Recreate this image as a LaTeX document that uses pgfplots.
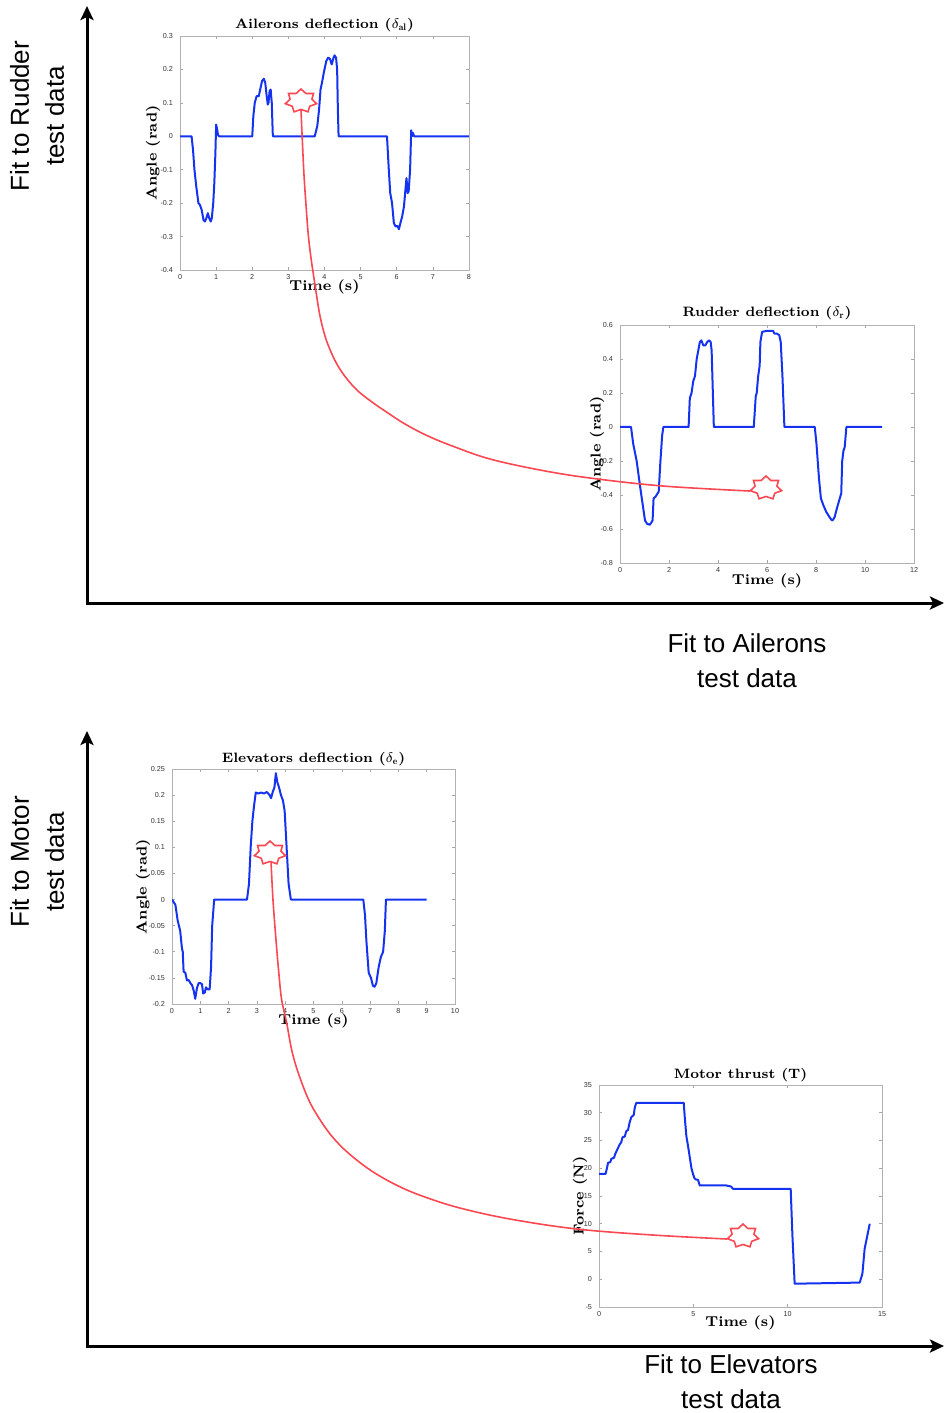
\documentclass[border=0pt]{standalone}
\usepackage{fontspec}
\setsansfont{Liberation Sans}
\usepackage{pgfplots}
\pgfplotsset{compat=1.18}
\usetikzlibrary{arrows.meta}
\definecolor{curvered}{RGB}{250,72,82}
\definecolor{plotblue}{RGB}{20,50,240}

\pgfdeclareplotmark{heptstar}{%
\pgfpathmoveto{\pgfqpoint{0pt}{6pt}}%
\pgfpathlineto{\pgfqpoint{-2.430pt}{3.784pt}}%
\pgfpathlineto{\pgfqpoint{-6.254pt}{3.741pt}}%
\pgfpathlineto{\pgfqpoint{-5.459pt}{0.935pt}}%
\pgfpathlineto{\pgfqpoint{-7.799pt}{-1.335pt}}%
\pgfpathlineto{\pgfqpoint{-4.378pt}{-2.619pt}}%
\pgfpathlineto{\pgfqpoint{-3.471pt}{-5.406pt}}%
\pgfpathlineto{\pgfqpoint{0pt}{-4.2pt}}%
\pgfpathlineto{\pgfqpoint{3.471pt}{-5.406pt}}%
\pgfpathlineto{\pgfqpoint{4.378pt}{-2.619pt}}%
\pgfpathlineto{\pgfqpoint{7.799pt}{-1.335pt}}%
\pgfpathlineto{\pgfqpoint{5.459pt}{0.935pt}}%
\pgfpathlineto{\pgfqpoint{6.254pt}{3.741pt}}%
\pgfpathlineto{\pgfqpoint{2.430pt}{3.784pt}}%
\pgfpathclose\pgfusepathqstroke}

\pgfplotsset{
  small/.style={
    scale only axis,
    axis line style={gray!60, line width=0.4pt},
    tick style={gray!70, line width=0.3pt},
    major tick length=1.6pt,
    tick align=inside,
    tick label style={font=\sffamily\fontsize{3.6}{4}\selectfont, text=black!80},
    xticklabel style={yshift=1.5pt},
    /pgf/number format/assume math mode=true,
    /pgf/number format/fixed,
    /pgf/number format/precision=2,
    label style={font=\bfseries\fontsize{7.2}{8}\selectfont},
    title style={font=\bfseries\fontsize{6.8}{8}\selectfont, anchor=center, yshift=-6pt},
    xlabel style={anchor=center},
    ylabel style={anchor=center},
    no markers,
  },
  blueline/.style={plotblue, line width=1pt, line join=round},
}

\begin{document}
\begin{tikzpicture}
\path[use as bounding box] (0,0) rectangle (473pt,-706.5pt);

% ---------------- Ailerons ----------------
\begin{axis}[small, at={(90pt,-18pt)}, anchor=north west,
  width=144.5pt, height=117pt,
  xmin=0, xmax=8, ymin=-0.4, ymax=0.3,
  xtick={0,1,2,3,4,5,6,7,8},
  ytick={-0.4,-0.3,-0.2,-0.1,0,0.1,0.2,0.3},
  title={Ailerons deflection ($\delta_{\mathbf{al}}$)},
  title style={at={(axis description cs:0.5,1.047)}},
  xlabel={Time (s)}, xlabel style={at={(axis description cs:0.5,-0.073)}},
  ylabel={Angle (rad)}, ylabel style={at={(axis description cs:-0.093,0.5)}},
]
\addplot[blueline] coordinates {(0,0)(0.32,0)(0.36,-0.04)(0.4,-0.1)(0.45,-0.15)(0.51,-0.2)(0.55,-0.205)(0.6,-0.22)(0.65,-0.25)(0.69,-0.255)(0.73,-0.245)(0.77,-0.23)(0.81,-0.245)(0.85,-0.255)(0.88,-0.245)(0.92,-0.2)(0.95,-0.14)(0.98,-0.05)(1.0,0.035)(1.03,0.02)(1.05,0.005)(1.08,0)(2.0,0)(2.03,0.06)(2.07,0.1)(2.12,0.12)(2.18,0.12)(2.22,0.14)(2.27,0.165)(2.32,0.172)(2.36,0.16)(2.4,0.12)(2.43,0.095)(2.45,0.1)(2.48,0.135)(2.51,0.14)(2.54,0.1)(2.57,0.0)(3.73,0)(3.8,0.03)(3.85,0.08)(3.89,0.14)(3.93,0.16)(3.98,0.19)(4.05,0.225)(4.1,0.235)(4.15,0.232)(4.2,0.215)(4.25,0.235)(4.28,0.242)(4.32,0.235)(4.35,0.2)(4.37,0.08)(4.39,0.0)(5.73,0)(5.78,-0.1)(5.82,-0.17)(5.87,-0.2)(5.92,-0.26)(5.97,-0.27)(6.02,-0.268)(6.06,-0.278)(6.1,-0.26)(6.15,-0.24)(6.2,-0.21)(6.24,-0.16)(6.27,-0.125)(6.3,-0.17)(6.33,-0.165)(6.37,-0.1)(6.4,0.018)(6.42,0.0)(6.45,0.01)(6.48,0)(8,0)};
\end{axis}

% ---------------- Rudder ----------------
\begin{axis}[small, at={(310pt,-162.5pt)}, anchor=north west,
  width=147pt, height=119pt,
  xmin=0, xmax=12, ymin=-0.8, ymax=0.6,
  xtick={0,2,4,6,8,10,12},
  ytick={-0.8,-0.6,-0.4,-0.2,0,0.2,0.4,0.6},
  title={Rudder deflection ($\delta_{\mathbf{r}}$)},
  title style={at={(axis description cs:0.5,1.05)}},
  xlabel={Time (s)}, xlabel style={at={(axis description cs:0.5,-0.076)}},
  ylabel={Angle (rad)}, ylabel style={at={(axis description cs:-0.078,0.5)}},
]
\addplot[blueline] coordinates {(0,0)(0.45,0)(0.54,-0.1)(0.68,-0.2)(0.82,-0.35)(0.92,-0.45)(1.02,-0.55)(1.11,-0.57)(1.22,-0.575)(1.33,-0.55)(1.37,-0.42)(1.45,-0.41)(1.58,-0.38)(1.65,-0.2)(1.72,-0.05)(1.77,0)(2.8,0)(2.85,0.17)(2.92,0.2)(2.99,0.27)(3.06,0.3)(3.13,0.4)(3.26,0.5)(3.32,0.51)(3.4,0.48)(3.48,0.48)(3.56,0.5)(3.64,0.51)(3.7,0.5)(3.74,0.45)(3.83,0)(5.46,0)(5.54,0.18)(5.58,0.2)(5.64,0.3)(5.7,0.36)(5.73,0.5)(5.8,0.56)(5.98,0.565)(6.25,0.565)(6.3,0.55)(6.4,0.55)(6.5,0.54)(6.56,0.5)(6.63,0.3)(6.71,0)(7.95,0)(8.02,-0.1)(8.12,-0.3)(8.2,-0.42)(8.3,-0.46)(8.42,-0.5)(8.55,-0.53)(8.65,-0.55)(8.7,-0.545)(8.76,-0.53)(8.85,-0.48)(8.95,-0.43)(9.03,-0.39)(9.07,-0.2)(9.12,-0.14)(9.17,-0.12)(9.24,0)(10.7,0)};
\end{axis}

% ---------------- Elevators ----------------
\begin{axis}[small, at={(86pt,-384.5pt)}, anchor=north west,
  width=141.5pt, height=117.5pt,
  xmin=0, xmax=10, ymin=-0.2, ymax=0.25,
  xtick={0,1,2,3,4,5,6,7,8,9,10},
  ytick={-0.2,-0.15,-0.1,-0.05,0,0.05,0.1,0.15,0.2,0.25},
  title={Elevators deflection ($\delta_{\mathbf{e}}$)},
  title style={at={(axis description cs:0.5,1.043)}},
  xlabel={Time (s)}, xlabel style={at={(axis description cs:0.5,-0.072)}},
  ylabel={Angle (rad)}, ylabel style={at={(axis description cs:-0.102,0.5)}},
]
\addplot[blueline] coordinates {(0,0)(0.12,-0.01)(0.2,-0.04)(0.29,-0.06)(0.35,-0.093)(0.38,-0.1)(0.41,-0.138)(0.47,-0.14)(0.53,-0.155)(0.59,-0.154)(0.65,-0.16)(0.71,-0.164)(0.77,-0.175)(0.82,-0.19)(0.88,-0.17)(0.94,-0.16)(1.0,-0.16)(1.06,-0.162)(1.1,-0.18)(1.16,-0.178)(1.2,-0.168)(1.26,-0.172)(1.33,-0.172)(1.38,-0.13)(1.42,-0.05)(1.49,0)(2.65,0)(2.72,0.03)(2.78,0.1)(2.84,0.15)(2.9,0.18)(2.96,0.205)(3.05,0.203)(3.15,0.205)(3.25,0.203)(3.35,0.206)(3.45,0.2)(3.5,0.194)(3.56,0.206)(3.62,0.215)(3.67,0.242)(3.72,0.225)(3.78,0.215)(3.85,0.2)(3.92,0.19)(3.98,0.17)(4.05,0.1)(4.12,0.03)(4.2,0)(6.76,0)(6.82,-0.03)(6.87,-0.08)(6.95,-0.14)(7.03,-0.15)(7.1,-0.165)(7.16,-0.167)(7.22,-0.16)(7.3,-0.13)(7.38,-0.11)(7.46,-0.1)(7.52,-0.06)(7.56,0)(9,0)};
\end{axis}

% ---------------- Motor ----------------
\begin{axis}[small, at={(299.5pt,-542.5pt)}, anchor=north west,
  width=141.5pt, height=111pt,
  xmin=0, xmax=15, ymin=-5, ymax=35,
  xtick={0,5,10,15},
  ytick={-5,0,5,10,15,20,25,30,35},
  title={Motor thrust (T)},
  title style={at={(axis description cs:0.5,1.045)}},
  xlabel={Time (s)}, xlabel style={at={(axis description cs:0.5,-0.072)}},
  ylabel={Force (N)}, ylabel style={at={(axis description cs:-0.067,0.5)}},
]
\addplot[blueline] coordinates {(0,19)(0.35,19)(0.42,20)(0.48,21)(0.6,21.1)(0.65,21.7)(0.8,21.9)(0.85,22.5)(1.0,23.6)(1.1,24.3)(1.18,24.7)(1.25,25.6)(1.36,25.7)(1.45,26.7)(1.54,26.9)(1.62,28.2)(1.71,29.2)(1.84,29.6)(1.9,31)(1.98,31.8)(4.49,31.8)(4.55,29)(4.63,25.8)(4.72,24)(4.81,22)(4.9,20)(4.98,19)(5.06,18.2)(5.12,18)(5.25,17.9)(5.34,16.9)(6.75,16.9)(7.0,16.7)(7.1,16.3)(10.16,16.3)(10.25,8)(10.37,-0.8)(13.82,-0.6)(13.96,1)(14.08,5.5)(14.26,8.5)(14.35,10)};
\end{axis}

% ---------------- Overlay (pixel coordinates) ----------------
\begin{axis}[at={(0pt,0pt)}, anchor=north west, scale only axis,
  width=473pt, height=706.5pt,
  xmin=0, xmax=946, ymin=0, ymax=1413, y dir=reverse,
  hide axis, clip=false]
\addplot[black, line width=1.5pt, -{Stealth[length=7pt,width=6.5pt,inset=1.5pt]}] coordinates {(87,603)(87,6)};
\addplot[black, line width=1.5pt, -{Stealth[length=7pt,width=6.5pt,inset=1.5pt]}] coordinates {(86,603)(944,603)};
\addplot[black, line width=1.5pt, -{Stealth[length=7pt,width=6.5pt,inset=1.5pt]}] coordinates {(87,1346)(87,731)};
\addplot[black, line width=1.5pt, -{Stealth[length=7pt,width=6.5pt,inset=1.5pt]}] coordinates {(86,1346)(944,1346)};
\addplot[curvered, line width=0.8pt, smooth, tension=0.6] coordinates {(301,110)(302.3,140)(304,175)(306,205)(308.3,235)(311,258)(313.5,275)(316.5,295)(320,316)(325,336)(331,352)(338,366)(347,379)(358,391)(372,402)(388,413)(405,424)(428,436)(455,447)(490,459)(540,470)(590,478)(663,486)(750,491)};
\addplot[curvered, line width=0.8pt, smooth, tension=0.6] coordinates {(271,861)(273,900)(276,940)(279,975)(281.7,1000)(286.7,1023)(291.7,1050)(298.3,1073)(308.3,1099)(318.3,1117)(331.7,1136)(348.3,1153)(371.7,1171)(398.3,1186)(425,1197)(460,1208)(510,1219)(577,1229)(653,1235)(727,1239)};
\addplot[only marks, mark=heptstar, mark options={draw=curvered, line width=0.8pt, fill=none}] coordinates {(301,101)(766,488)(270,853)(743,1236)};
\node[rotate=90, align=center, font=\sffamily\fontsize{13}{17.5}\selectfont] at (axis cs:37,116) {Fit to Rudder\\test data};
\node[rotate=90, align=center, font=\sffamily\fontsize{13}{17.5}\selectfont] at (axis cs:37,862) {Fit to Motor\\test data};
\node[align=center, font=\sffamily\fontsize{13}{17.5}\selectfont] at (axis cs:747,661) {Fit to Ailerons\\test data};
\node[align=center, font=\sffamily\fontsize{13}{17.5}\selectfont] at (axis cs:731,1382) {Fit to Elevators\\test data};
\end{axis}
\end{tikzpicture}
\end{document}
